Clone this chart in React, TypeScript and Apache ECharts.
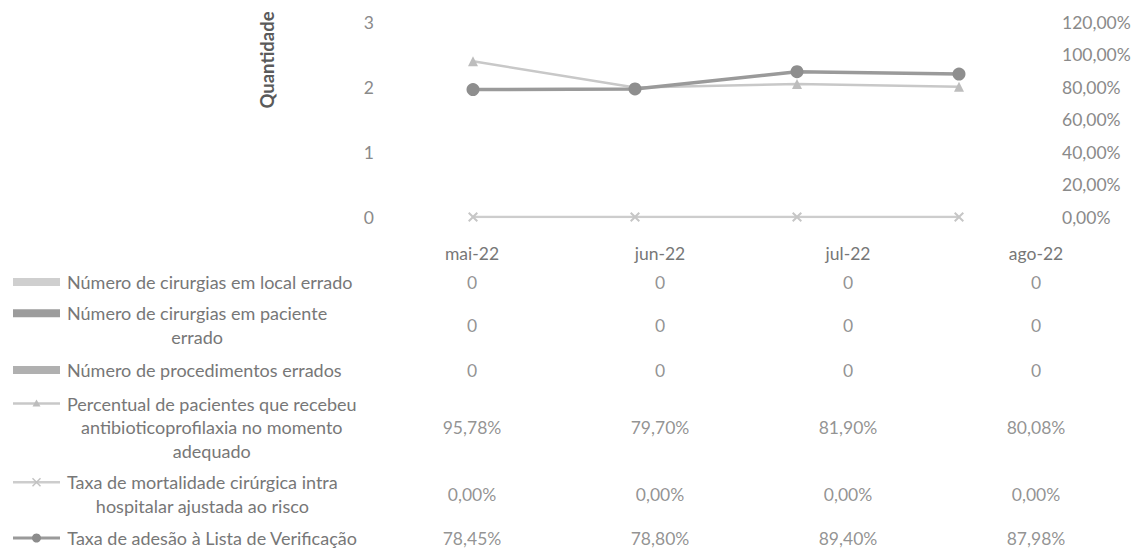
import React, { useEffect, useRef } from "react";
import * as echarts from "echarts";

// ---- data ----
const categories = ["mai-22", "jun-22", "jul-22", "ago-22"];
const cirurgiasLocalErrado = [0, 0, 0, 0];
const cirurgiasPacienteErrado = [0, 0, 0, 0];
const procedimentosErrados = [0, 0, 0, 0];
const antibioticoprofilaxia = [95.78, 79.7, 81.9, 80.08];
const mortalidadeCirurgica = [0.0, 0.0, 0.0, 0.0];
const adesaoLista = [78.45, 78.8, 89.4, 87.98];

const seriesNames = [
  "Número de cirurgias em local errado",
  "Número de cirurgias em paciente\nerrado",
  "Número de procedimentos errados",
  "Percentual de pacientes que recebeu\nantibioticoprofilaxia no momento\nadequado",
  "Taxa de mortalidade cirúrgica intra\nhospitalar ajustada ao risco",
  "Taxa de adesão à Lista de Verificação",
];
const leftAxisTitle = "Quantidade";

// ---- layout / style ----
const W = 1134;
const H = 554;
const FONT = "Lato";
const FS = 17.5;
const FS_LEG = 18;
const LINE_H = 23.5;
const rowCenters = [282, 325, 370, 427, 494, 538];
const TABLE_TOP = 266;

const C_AXIS = "#8a8a8a";
const C_TEXT = "#777777";
const C_BAR1 = "#cfcfcf";
const C_BAR2 = "#9c9c9c";
const C_BAR3 = "#b0b0b0";
const C_ANTI = "#c8c8c8";
const C_MORT = "#cdcdcd";
const C_ADES = "#9a9a9a";

const X_SYMBOL = "path://M0,1.4L1.4,0L5,3.6L8.6,0L10,1.4L6.4,5L10,8.6L8.6,10L5,6.4L1.4,10L0,8.6L3.6,5Z";

const fmtPct = (v: number) => v.toFixed(2).replace(".", ",") + "%";
const fmtCount = (v: number) => String(v);

export default function App() {
  const ref = useRef<HTMLDivElement>(null);

  useEffect(() => {
    if (!ref.current) return;
    const chart = echarts.init(ref.current, undefined, { renderer: "svg" });

    const ctx = document.createElement("canvas").getContext("2d")!;
    ctx.font = `${FS_LEG}px ${FONT}`;
    const measure = (s: string) => ctx.measureText(s).width;

    const tableRows = [
      { values: cirurgiasLocalErrado, fmt: fmtCount },
      { values: cirurgiasPacienteErrado, fmt: fmtCount },
      { values: procedimentosErrados, fmt: fmtCount },
      { values: antibioticoprofilaxia, fmt: fmtPct },
      { values: mortalidadeCirurgica, fmt: fmtPct },
      { values: adesaoLista, fmt: fmtPct },
    ];

    const keyX0 = 13;
    const keyX1 = 60;
    const textX0 = 67;

    const graphics: any[] = [
      {
        type: "text",
        x: 267,
        y: 60,
        rotation: Math.PI / 2,
        style: {
          text: leftAxisTitle,
          fill: "#5a5a5a",
          font: `bold 18.5px ${FONT}`,
          align: "center",
          verticalAlign: "middle",
        },
      },
    ];

    seriesNames.forEach((name, i) => {
      const lines = name.split("\n");
      const firstY = rowCenters[i] - ((lines.length - 1) * LINE_H) / 2;
      const maxW = Math.max(...lines.map(measure));
      graphics.push({
        type: "text",
        x: textX0 + maxW / 2,
        y: rowCenters[i],
        style: {
          text: name,
          fill: C_TEXT,
          font: `${FS_LEG}px ${FONT}`,
          align: "center",
          verticalAlign: "middle",
          lineHeight: LINE_H,
        },
      });
      if (i < 3) {
        const col = [C_BAR1, C_BAR2, C_BAR3][i];
        graphics.push({
          type: "rect",
          shape: { x: keyX0, y: firstY - 4, width: keyX1 - keyX0, height: 8 },
          style: { fill: col },
        });
      } else {
        const col = [C_ANTI, C_MORT, C_ADES][i - 3];
        const cx = (keyX0 + keyX1) / 2;
        graphics.push({
          type: "line",
          shape: { x1: keyX0, y1: firstY, x2: keyX1, y2: firstY },
          style: { stroke: col, lineWidth: i === 5 ? 3 : 2.5 },
        });
        if (i === 3) {
          graphics.push({
            type: "polygon",
            shape: { points: [[cx, firstY - 4], [cx + 4, firstY + 3], [cx - 4, firstY + 3]] },
            style: { fill: "#bdbdbd" },
          });
        } else if (i === 4) {
          graphics.push({
            type: "line",
            shape: { x1: cx - 4, y1: firstY - 4, x2: cx + 4, y2: firstY + 4 },
            style: { stroke: "#c2c2c2", lineWidth: 1.5 },
          });
          graphics.push({
            type: "line",
            shape: { x1: cx - 4, y1: firstY + 4, x2: cx + 4, y2: firstY - 4 },
            style: { stroke: "#c2c2c2", lineWidth: 1.5 },
          });
        } else {
          graphics.push({
            type: "circle",
            shape: { cx, cy: firstY, r: 4.5 },
            style: { fill: "#8c8c8c" },
          });
        }
      }
    });

    const tableSeries = tableRows.map((row, r) => ({
      type: "scatter",
      xAxisIndex: 1,
      yAxisIndex: 2,
      symbolSize: 0,
      silent: true,
      data: categories.map((c, i) => [i, rowCenters[r], row.values[i]]),
      label: {
        show: true,
        position: "inside",
        formatter: (p: any) => row.fmt(p.value[2]),
        color: C_TEXT,
        fontSize: FS,
        fontFamily: FONT,
      },
    }));

    chart.setOption({
      animation: false,
      backgroundColor: "#ffffff",
      textStyle: { fontFamily: FONT },
      grid: [
        { left: 392, width: 648, top: 22, height: 195 },
        { left: 378, width: 752, top: TABLE_TOP, height: H - TABLE_TOP },
      ],
      xAxis: [
        {
          type: "category",
          gridIndex: 0,
          data: categories,
          boundaryGap: true,
          axisLine: { show: false },
          axisTick: { show: false },
          axisLabel: { show: false },
        },
        {
          type: "category",
          gridIndex: 1,
          data: categories,
          position: "top",
          boundaryGap: true,
          axisLine: { show: false },
          axisTick: { show: false },
          axisLabel: { margin: 4, color: C_TEXT, fontSize: FS, fontFamily: FONT },
        },
      ],
      yAxis: [
        {
          type: "value",
          gridIndex: 0,
          position: "left",
          min: 0,
          max: 3,
          interval: 1,
          splitLine: { show: false },
          axisLine: { show: false },
          axisTick: { show: false },
          axisLabel: { margin: 18, color: C_AXIS, fontSize: FS, fontFamily: FONT },
        },
        {
          type: "value",
          gridIndex: 0,
          position: "right",
          min: 0,
          max: 120,
          interval: 20,
          splitLine: { show: false },
          axisLine: { show: false },
          axisTick: { show: false },
          axisLabel: {
            margin: 22,
            color: C_AXIS,
            fontSize: FS,
            fontFamily: FONT,
            formatter: (v: number) => fmtPct(v),
          },
        },
        {
          type: "value",
          gridIndex: 1,
          min: TABLE_TOP,
          max: H,
          inverse: true,
          show: false,
        },
      ],
      series: [
        { name: seriesNames[0], type: "bar", xAxisIndex: 0, yAxisIndex: 0, data: cirurgiasLocalErrado, itemStyle: { color: C_BAR1 } },
        { name: seriesNames[1], type: "bar", xAxisIndex: 0, yAxisIndex: 0, data: cirurgiasPacienteErrado, itemStyle: { color: C_BAR2 } },
        { name: seriesNames[2], type: "bar", xAxisIndex: 0, yAxisIndex: 0, data: procedimentosErrados, itemStyle: { color: C_BAR3 } },
        {
          name: seriesNames[4],
          type: "line",
          xAxisIndex: 0,
          yAxisIndex: 1,
          data: mortalidadeCirurgica,
          symbol: X_SYMBOL,
          symbolSize: 10,
          lineStyle: { color: C_MORT, width: 2.5 },
          itemStyle: { color: "#c6c6c6" },
        },
        {
          name: seriesNames[3],
          type: "line",
          xAxisIndex: 0,
          yAxisIndex: 1,
          data: antibioticoprofilaxia,
          symbol: "triangle",
          symbolSize: 10,
          lineStyle: { color: C_ANTI, width: 2.5 },
          itemStyle: { color: "#bdbdbd" },
        },
        {
          name: seriesNames[5],
          type: "line",
          xAxisIndex: 0,
          yAxisIndex: 1,
          data: adesaoLista,
          symbol: "circle",
          symbolSize: 13,
          lineStyle: { color: C_ADES, width: 3.5 },
          itemStyle: { color: "#8e8e8e" },
        },
        ...tableSeries,
      ],
      graphic: graphics,
    });

    return () => chart.dispose();
  }, []);

  return (
    <div
      ref={ref}
      style={{ position: "absolute", left: 0, top: 0, width: W, height: H }}
    />
  );
}
